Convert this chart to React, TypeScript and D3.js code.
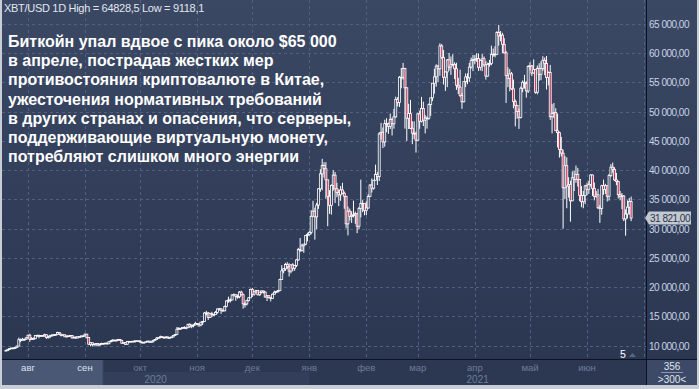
import React from "react";
import * as d3 from "d3";

// [high, low, close] per day; open = previous close
const firstOpen = 9210;
const jul2020 = [[9230,9130,9160],[9420,9150,9390],[9550,9280,9540],[9640,9490,9610],[9640,9480,9550],[9730,9530,9710],[10000,9660,9930],[11390,9920,11030],[11230,10590,10910],[11330,10880,11100],[11170,10830,11110],[11450,10990,11350]];
const aug2020 = [[11860,11230,11800],[12030,10660,11070],[11470,11020,11220],[11410,11080,11190],[11790,11150,11740],[11900,11570,11760],[11900,11280,11600],[11790,11530,11750],[11800,11580,11680],[12050,11550,11880],[11930,11160,11410],[11620,11200,11580],[11800,11280,11780],[12000,11680,11770],[11950,11680,11870],[11940,11700,11910],[12390,11800,12250],[12340,11820,11990],[12010,11580,11740],[11880,11670,11870],[11880,11490,11520],[11690,11390,11680],[11710,11540,11650],[11830,11600,11750],[11770,11260,11320],[11530,11290,11460],[11580,11190,11320],[11570,11300,11540],[11590,11440,11500],[11700,11470,11680],[11770,11610,11680]];
const sep2020 = [[12070,11650,11970],[11990,11250,11410],[11460,10150,10250],[10580,9900,10510],[10560,9890,10170],[10330,10030,10280],[10400,9880,10370],[10440,9900,10130],[10350,10010,10240],[10510,10210,10360],[10420,10200,10400],[10480,10300,10440],[10570,10220,10330],[10780,10260,10680],[10940,10640,10790],[11090,10730,10950],[11040,10800,10940],[11010,10790,10930],[11160,10900,11080],[11080,10800,10920],[10990,10370,10420],[10570,10370,10540],[10550,10150,10240],[10780,10190,10740],[10770,10570,10690],[10760,10660,10730],[10800,10650,10770],[10950,10700,10710],[10880,10650,10840],[10860,10720,10780]];
const oct2020 = [[10960,10540,10620],[10670,10400,10570],[10610,10500,10550],[10690,10540,10670],[10800,10630,10790],[10800,10530,10600],[10690,10570,10670],[10950,10550,10920],[11100,10830,11060],[11490,11050,11300],[11430,11280,11380],[11720,11240,11550],[11560,11330,11430],[11540,11280,11430],[11620,11260,11500],[11540,11230,11330],[11420,11300,11370],[11520,11350,11500],[11800,11420,11750],[12000,11680,11920],[13200,11890,12820],[13160,12720,12970],[13020,12740,12930],[13170,12880,13120],[13340,12900,13030],[13240,12800,13070],[13760,13050,13650],[13850,13050,13270],[13630,12990,13460],[13650,13140,13560],[14090,13470,13780]];
const nov2020 = [[13890,13640,13740],[13810,13210,13550],[14070,13300,14030],[14240,13540,14150],[15750,14100,15590],[15960,15180,15580],[15770,14400,14830],[15640,14720,15480],[15800,14900,15330],[15460,15090,15310],[15950,15290,15700],[16320,15470,16280],[16460,15990,16320],[16330,15450,16070],[16140,15820,15960],[16860,15890,16720],[17780,16570,17650],[18390,17340,17800],[18110,17370,17820],[18800,17760,18680],[18950,18460,18710],[18750,17690,18420],[18750,18030,18370],[19350,18120,19160],[19400,18580,18720],[18900,16330,17150],[17440,16520,17140],[17850,16880,17720],[18310,17540,18180],[19750,18180,19630]];
const dec2020 = [[19890,18330,18800],[19290,18540,19200],[19540,18960,19450],[19510,18610,18700],[19190,18530,19150],[19400,18920,19360],[19400,18910,19170],[19280,18230,18320],[18660,17640,18550],[18580,18030,18260],[18280,17570,18060],[18940,18020,18800],[19400,18740,19140],[19330,19000,19250],[19550,19070,19440],[21460,19300,21310],[23770,21230,22810],[23260,22360,23140],[24170,22790,23870],[24290,23100,23480],[24100,21840,22750],[23850,22370,23830],[24100,22730,23240],[23800,22810,23730],[24780,23440,24670],[26720,24520,26440],[28420,25980,26280],[27420,26100,27080],[27390,25870,27360],[28940,27230,28840],[29300,27850,29000]];
const jan2021 = [[29600,28800,29370],[33160,29040,32130],[34780,32020,33000],[33600,28130,32030],[34440,29900,34050],[36940,33400,36820],[40180,36310,39370],[41950,36570,40800],[41360,38720,40250],[41380,35110,38360],[38310,30420,35540],[36600,32530,34000],[37600,32420,37390],[40000,36490,39160],[39700,34410,36820],[37850,35380,36180],[36700,33870,35790],[37300,34770,36630],[37850,35880,36070],[36360,33400,35550],[35550,30070,30830],[33790,28850,33000],[33450,31390,32100],[32970,30990,32290],[34800,31930,32370],[32930,30840,32570],[32560,29240,30430],[33740,29900,33470],[38400,31940,34320],[34880,32830,34320],[34280,32300,33110]];
const feb2021 = [[34690,32310,33540],[35900,33430,35510],[37610,35400,37470],[38590,36190,36930],[38310,36670,38290],[40950,38230,39260],[39700,37470,38900],[46500,38140,46200],[48100,45260,46480],[47310,43780,44840],[48630,44020,47970],[48890,46500,47910],[48150,46220,47500],[49700,47050,48700],[49000,45940,47940],[50500,47100,49130],[52580,48950,52120],[52480,50910,51570],[56100,50810,55890],[57490,54000,55890],[58350,55490,57410],[57510,47100,54090],[54200,45000,48890],[51360,47050,49680],[52030,47020,47170],[48370,44450,46340],[48350,45320,46190],[46600,43020,45140]];
const mar2021 = [[49790,45030,49630],[50200,47070,48380],[52540,48160,50540],[51730,47560,48560],[49430,46290,48930],[49200,47110,48880],[51420,48630,51210],[52360,49300,52380],[54900,51830,54880],[57350,53080,55960],[58110,54280,57800],[58000,55040,57330],[61700,56130,61240],[61580,59060,59300],[60550,54650,55900],[56870,53560,56800],[58990,54200,58870],[60050,57020,57650],[59440,56290,58030],[59830,57880,58100],[58440,55570,57350],[58380,53740,54530],[55800,53030,54210],[57180,52510,52770],[53190,50490,51700],[55090,51590,55140],[56540,54210,55950],[56580,54700,55800],[58350,55100,57630],[59260,57380,58730],[59710,56940,58920]];
const apr2021 = [[59670,58100,58970],[60000,58520,59110],[59950,56990,57600],[58940,57040,58760],[59890,56940,59060],[59450,57660,58020],[58650,55500,56100],[58400,55990,58100],[58860,57700,58230],[61300,57940,59770],[60800,59400,59850],[61220,59290,59790],[63780,59810,63540],[64828,61300,62970],[63800,62040,63110],[63500,60030,61530],[62570,59960,60060],[60400,51500,56220],[57600,54200,55720],[57300,53500,56470],[56800,53720,53910],[55500,50580,51760],[52100,47500,51090],[51180,48800,50050],[50500,47060,49000],[54300,48850,54020],[55350,53330,55030],[56300,53960,54820],[55200,52400,53560],[57960,53200,57750]];
const may2021 = [[58450,57070,57830],[57990,56080,56630],[58950,56500,57200],[57210,53080,53330],[57900,52980,57420],[58300,55300,56400],[58630,55400,57360],[59500,56970,58800],[59270,56250,58230],[59530,53800,55860],[56900,54500,56700],[57980,48600,49150],[51300,46300,49720],[51500,48900,49880],[50600,46700,46760],[49700,43900,46430],[46600,42150,43540],[45700,42350,42910],[43500,30000,37000],[42450,35050,40780],[42200,33500,37300],[38800,35300,37540],[38200,31200,34770],[39800,34700,38710],[39900,36450,38400],[40800,37850,39290],[40400,37200,38440],[38200,34700,35690],[37300,33680,34620],[36450,33500,35680],[37500,34200,37340]];
const jun2021 = [[37850,35700,36690],[38200,35950,37580],[39300,37200,39190],[39250,35600,36870],[37900,34850,35520],[36450,35300,35800],[36800,33350,33590],[34050,31000,33470],[37500,32400,37350],[38400,35800,36690],[37680,35950,37340],[37400,34650,35550],[39400,34800,39100],[41050,38800,40520],[41300,39550,40140],[40500,38150,38350],[39550,37450,38090],[38200,35150,35820],[36450,34850,35480],[36100,33350,35600],[35750,31300,31680],[33300,28800,32510],[34850,31750,33690],[35250,32400,34660],[35500,31300,31821]];

const monthBlocks: [number, number, number, number[][]][] = [
  [2020, 6, 20, jul2020], [2020, 7, 1, aug2020], [2020, 8, 1, sep2020], [2020, 9, 1, oct2020],
  [2020, 10, 1, nov2020], [2020, 11, 1, dec2020], [2021, 0, 1, jan2021], [2021, 1, 1, feb2021],
  [2021, 2, 1, mar2021], [2021, 3, 1, apr2021], [2021, 4, 1, may2021], [2021, 5, 1, jun2021],
];

const monthLabels = ["авг", "сен", "окт", "ноя", "дек", "янв", "фев", "мар", "апр", "май", "июн"];
const yearLabels = ["2020", "2021"];
const yTicks = [10000, 15000, 20000, 25000, 30000, 35000, 40000, 45000, 50000, 55000, 60000, 65000];
const headerText = "XBT/USD 1D High = 64828,5 Low = 9118,1";
const lastPrice = 31821;
const overlayLines = [
  "Биткойн упал вдвое с пика около $65 000",
  "в апреле, пострадав жестких мер",
  "противостояния криптовалюте в Китае,",
  "ужесточения нормативных требований",
  "в других странах и опасения, что серверы,",
  "поддерживающие виртуальную монету,",
  "потребляют слишком много энергии",
];

type Candle = { date: Date; o: number; h: number; l: number; c: number };

function buildCandles(): Candle[] {
  const out: Candle[] = [];
  let prev = firstOpen;
  for (const [y, m, start, rows] of monthBlocks) {
    rows.forEach((r, i) => {
      out.push({ date: new Date(Date.UTC(y, m, start + i)), o: prev, h: r[0], l: r[1], c: r[2] });
      prev = r[2];
    });
  }
  return out;
}

const fmt = (v: number) => {
  const s = Math.round(v).toString().replace(/\B(?=(\d{3})+(?!\d))/g, " ");
  return s + ",00";
};

export default function App() {
  const W = 699, H = 389;
  const plotL = 2, plotR = 646, plotT = 0, plotB = 359;
  const candles = buildCandles();
  const x = d3.scaleUtc().domain([new Date(Date.UTC(2020, 7, 1)), new Date(Date.UTC(2021, 5, 1))]).range([28, 587]);
  const y = d3.scaleLinear().domain([10000, 65000]).range([345.7, 24]);
  const monthTicks = d3.utcMonth.range(new Date(Date.UTC(2020, 7, 1)), new Date(Date.UTC(2021, 6, 1)));
  const yearStart2021 = x(new Date(Date.UTC(2021, 0, 1)));
  const bw = 2.0;
  const font = "'Liberation Sans', Arial, sans-serif";
  const ly = y(lastPrice);

  return (
    <svg width={W} height={H} style={{ position: "absolute", left: 0, top: 0, display: "block" }} fontFamily={font}>
      <defs>
        <linearGradient id="bg" x1="0" y1="0" x2="0" y2="1">
          <stop offset="0" stopColor="#3b4864" />
          <stop offset="1" stopColor="#2a3650" />
        </linearGradient>
        <clipPath id="plotclip">
          <rect x={plotL} y={plotT} width={plotR - plotL} height={plotB - plotT} />
        </clipPath>
      </defs>
      <rect x={0} y={0} width={W} height={H} fill="#c9cdd5" />
      <rect x={plotL} y={0} width={W - 4} height={385} fill="url(#bg)" />
      {/* bottom axis area */}
      <rect x={plotL} y={plotB} width={plotR - plotL} height={26} fill="#2c3852" />
      <rect x={plotL} y={372} width={yearStart2021 - plotL} height={13} fill="#333f5a" />
      <rect x={plotL} y={plotB} width={101} height={26} fill="#4a5875" />
      <line x1={103} x2={103} y1={plotB} y2={385} stroke="#3a4661" />
      {/* bottom-right box */}
      <rect x={647} y={plotB + 1} width={50} height={25} fill="#3d4a67" />

      {/* gridlines */}
      <g stroke="#52607e" strokeDasharray="3,3" strokeWidth={1}>
        {yTicks.map((t) => (
          <line key={t} x1={plotL} x2={plotR} y1={Math.round(y(t)) + 0.5} y2={Math.round(y(t)) + 0.5} />
        ))}
        {monthTicks.map((d, i) => (
          <line key={i} x1={Math.round(x(d)) + 0.5} x2={Math.round(x(d)) + 0.5} y1={0} y2={plotB} />
        ))}
        <line x1={644.5} x2={644.5} y1={0} y2={plotB} />
      </g>

      {/* candles */}
      <g clipPath="url(#plotclip)">
        {candles.map((c, i) => {
          const cx = x(c.date);
          const up = c.c >= c.o;
          const top = y(Math.max(c.o, c.c));
          const bot = y(Math.min(c.o, c.c));
          return (
            <g key={i}>
              <line x1={cx} x2={cx} y1={y(c.h)} y2={y(c.l)} stroke="#ffffff" strokeWidth={1} />
              <rect x={cx - bw / 2} y={top} width={bw} height={Math.max(bot - top, 0.8)}
                fill={up ? "#35425e" : "#c23a5a"} stroke="#ffffff" strokeWidth={0.8} />
            </g>
          );
        })}
      </g>

      {/* overlay text */}
      <g fill="#ffffff" fontWeight="bold" fontSize={16}>
        {overlayLines.map((t, i) => (
          <text key={i} x={8} y={47 + i * 19.2}>{t}</text>
        ))}
      </g>

      {/* header */}
      <text x={4} y={12} fontSize={11} fill="#e2e6ee" letterSpacing={-0.3}>{headerText}</text>

      {/* separators */}
      <line x1={646.5} x2={646.5} y1={0} y2={385} stroke="#0d1220" strokeWidth={1} />
      <line x1={plotL} x2={697} y1={359.5} y2={359.5} stroke="#0d1220" strokeWidth={1} />

      {/* y axis labels */}
      <g fontSize={10} fill="#c9d3e6" letterSpacing={-0.5}>
        {yTicks.map((t) => (
          <text key={t} x={649} y={y(t) + 4}>{fmt(t)}</text>
        ))}
      </g>

      {/* last price label */}
      <path d={`M645,${ly} L649,${ly - 6.5} L691,${ly - 6.5} L691,${ly + 6.5} L649,${ly + 6.5} Z`} fill="#c3c9d3" />
      <text x={650} y={ly + 4} fontSize={10} letterSpacing={-0.5} fill="#2b3345">{fmt(lastPrice)}</text>

      {/* x axis labels */}
      <g fontSize={9.5} textAnchor="middle">
        {monthTicks.slice(0, monthLabels.length).map((d, i) => (
          <text key={i} x={x(d)} y={371} fill={i < 2 ? "#dde3ee" : "#6d7b98"}>{monthLabels[i]}</text>
        ))}
      </g>
      <g fontSize={10} textAnchor="middle" fill="#6d7b98">
        <text x={(plotL + yearStart2021) / 2} y={383}>{yearLabels[0]}</text>
        <text x={(yearStart2021 + plotR) / 2} y={383}>{yearLabels[1]}</text>
      </g>

      {/* "5" marker */}
      <text x={623} y={358} fontSize={10.5} fill="#ffffff" textAnchor="middle">5</text>
      <path d="M629,357 L632.5,353 L636,357 Z" fill="#5b6782" />

      {/* bottom right box text */}
      <g fontSize={10} fill="#dfe4ee" textAnchor="middle">
        <text x={672} y={370}>356</text>
        <line x1={661} x2={683} y1={372.5} y2={372.5} stroke="#8c98b2" />
        <text x={672} y={383}>&gt;300&lt;</text>
      </g>
    </svg>
  );
}
